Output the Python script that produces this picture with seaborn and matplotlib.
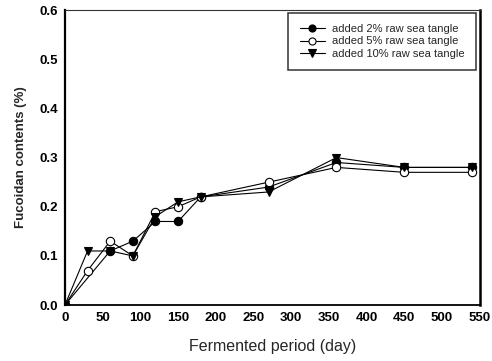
import matplotlib
matplotlib.use("Agg")
import matplotlib.pyplot as plt
import seaborn as sns
import pandas as pd

sns.set_style("white")
plt.rcParams['font.family'] = ['Liberation Sans', 'DejaVu Sans']

days_2 = [0, 60, 90, 120, 150, 180, 270, 360, 450, 540]
vals_2 = [0.0, 0.11, 0.13, 0.17, 0.17, 0.22, 0.24, 0.29, 0.28, 0.28]
days_5 = [0, 30, 60, 90, 120, 150, 180, 270, 360, 450, 540]
vals_5 = [0.0, 0.07, 0.13, 0.10, 0.19, 0.20, 0.22, 0.25, 0.28, 0.27, 0.27]
days_10 = [0, 30, 60, 90, 120, 150, 180, 270, 360, 450, 540]
vals_10 = [0.0, 0.11, 0.11, 0.10, 0.18, 0.21, 0.22, 0.23, 0.30, 0.28, 0.28]
labels = ["added 2% raw sea tangle", "added 5% raw sea tangle", "added 10% raw sea tangle"]

fig = plt.figure(figsize=(4.92, 3.61), dpi=100)
ax = fig.add_axes([0.132, 0.155, 0.843, 0.817])

styles = [dict(marker='o', markerfacecolor='black'),
          dict(marker='o', markerfacecolor='white'),
          dict(marker='v', markerfacecolor='black')]
for d, v, lab, st in zip([days_2, days_5, days_10], [vals_2, vals_5, vals_10], labels, styles):
    df = pd.DataFrame({"day": d, "val": v})
    sns.lineplot(data=df, x="day", y="val", ax=ax, color='black', linewidth=0.8,
                 markersize=6, markeredgecolor='black', markeredgewidth=0.8,
                 label=lab, **st)

ax.set_xlim(0, 550)
ax.set_ylim(0, 0.6)
ax.set_xticks(range(0, 551, 50))
ax.set_yticks([0.0, 0.1, 0.2, 0.3, 0.4, 0.5, 0.6])
ax.set_yticklabels(["0.0", "0.1", "0.2", "0.3", "0.4", "0.5", "0.6"])
ax.tick_params(direction='in', length=4, width=0.9, labelsize=9.5, pad=5, colors='black')
for t in ax.get_xticklabels() + ax.get_yticklabels():
    t.set_fontweight('bold')
for s in ax.spines.values():
    s.set_color('black')
ax.spines['left'].set_linewidth(1.6)
ax.spines['bottom'].set_linewidth(1.3)
ax.spines['right'].set_linewidth(1.8)
ax.spines['top'].set_linewidth(0.8)
ax.spines['top'].set_color('#333333')

ax.set_xlabel("Fermented period (day)", fontsize=11.5, fontweight='normal', labelpad=11)
ax.set_ylabel("Fucoidan contents (%)", fontsize=9.5, fontweight='bold', labelpad=9)

leg = ax.legend(loc='upper right', bbox_to_anchor=(0.99, 0.99), fontsize=8, frameon=True,
                fancybox=False, shadow=False, edgecolor='black', handlelength=2.3,
                borderpad=1.0, labelspacing=0.2, handletextpad=0.6, borderaxespad=0.0,
                markerscale=0.85)
leg.get_frame().set_linewidth(1.1)

fig.savefig("out.png", dpi=100)
